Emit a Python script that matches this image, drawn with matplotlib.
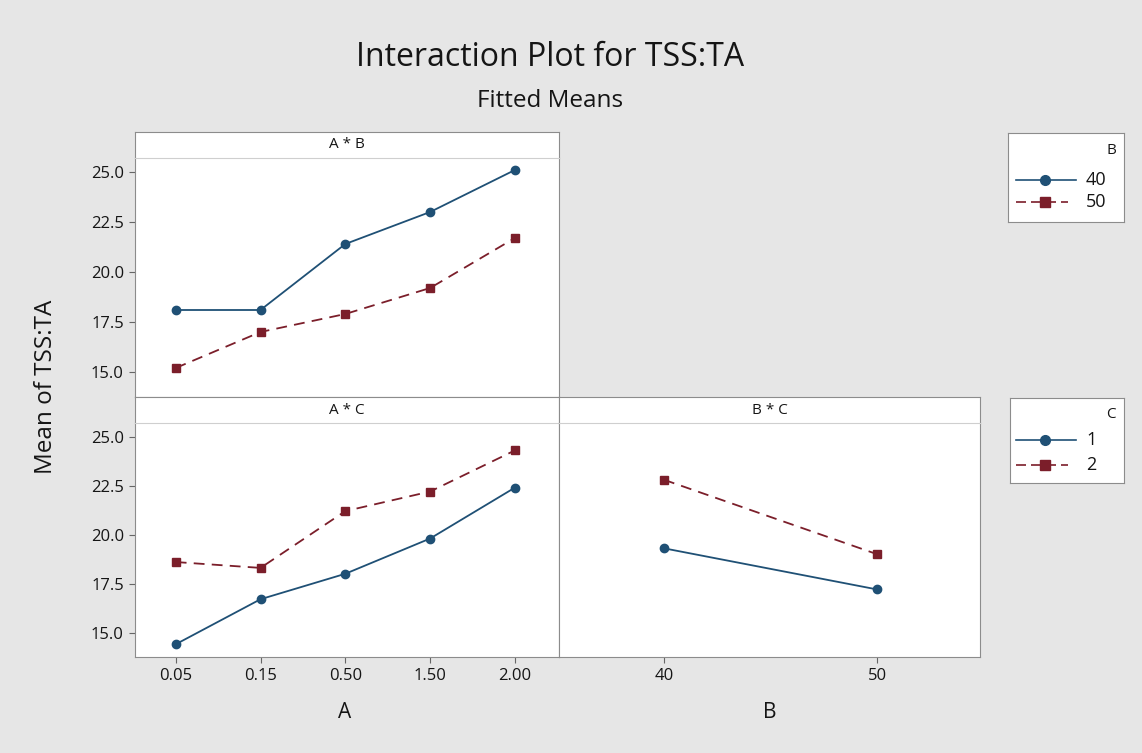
import matplotlib
matplotlib.use("Agg")
import matplotlib.pyplot as plt

plt.rcParams['font.family'] = ['Open Sans', 'DejaVu Sans']

# ---- data ----
a_levels = ["0.05", "0.15", "0.50", "1.50", "2.00"]
b_levels = ["40", "50"]
c_levels = ["1", "2"]

ab_b40 = [18.1, 18.1, 21.4, 23.0, 25.1]
ab_b50 = [15.2, 17.0, 17.9, 19.2, 21.7]

ac_c1 = [14.4, 16.7, 18.0, 19.8, 22.4]
ac_c2 = [18.6, 18.3, 21.2, 22.2, 24.3]

bc_c1 = [19.3, 17.2]
bc_c2 = [22.8, 19.0]

yticks = [15.0, 17.5, 20.0, 22.5, 25.0]

# ---- style ----
W, H = 1142, 753
BG = "#e6e6e6"
BLUE = "#1f5075"
RED = "#7b1e2a"
FRAME = "#8c8c8c"
SEP = "#cfcfcf"
TXT = "#151515"
YLIM = (13.75, 25.7)

fig = plt.figure(figsize=(W / 100, H / 100), dpi=100, facecolor=BG)


def px_axes(x0, y0, x1, y1, **kw):
    return fig.add_axes([x0 / W, 1 - y1 / H, (x1 - x0) / W, (y1 - y0) / H], **kw)


def panel(x0, x1, ytop, ystrip, ybot, label):
    strip = px_axes(x0, ytop, x1, ystrip)
    strip.set_facecolor("white")
    strip.set_xticks([]); strip.set_yticks([])
    for s in ["left", "right", "top"]:
        strip.spines[s].set_color(FRAME)
    strip.spines["bottom"].set_visible(False)
    strip.text(0.5, 0.5, label, ha="center", va="center", fontsize=11,
               color=TXT, transform=strip.transAxes)
    ax = px_axes(x0, ystrip, x1, ybot)
    ax.set_facecolor("white")
    for s in ["left", "right", "bottom"]:
        ax.spines[s].set_color(FRAME)
    ax.spines["top"].set_color(SEP)
    ax.tick_params(colors="#666666", labelcolor=TXT, labelsize=12,
                   length=4, width=0.8, pad=4)
    return ax


ax_ab = panel(135, 559, 132, 158, 397, "A * B")
ax_ac = panel(135, 559, 397, 423, 657, "A * C")
ax_bc = panel(559, 980, 397, 423, 657, "B * C")

xa = list(range(len(a_levels)))
ax_ab.plot(xa, ab_b40, color=BLUE, lw=1.3, marker="o", ms=6, mfc=BLUE, mec=BLUE)
ax_ab.plot(xa, ab_b50, color=RED, lw=1.3, ls=(0, (6, 4)), marker="s", ms=6, mfc=RED, mec=RED)
ax_ac.plot(xa, ac_c1, color=BLUE, lw=1.3, marker="o", ms=6, mfc=BLUE, mec=BLUE)
ax_ac.plot(xa, ac_c2, color=RED, lw=1.3, ls=(0, (6, 4)), marker="s", ms=6, mfc=RED, mec=RED)

xb = [float(v) for v in b_levels]
ax_bc.plot(xb, bc_c1, color=BLUE, lw=1.3, marker="o", ms=6, mfc=BLUE, mec=BLUE)
ax_bc.plot(xb, bc_c2, color=RED, lw=1.3, ls=(0, (6, 4)), marker="s", ms=6, mfc=RED, mec=RED)

for ax in (ax_ab, ax_ac):
    ax.set_xlim(-0.48, 4.52)
    ax.set_ylim(*YLIM)
    ax.set_yticks(yticks)
    ax.set_yticklabels([f"{v:.1f}" for v in yticks])
ax_ab.set_xticks([])
ax_ac.set_xticks(xa)
ax_ac.set_xticklabels(a_levels)

ax_bc.set_xlim(35.07, 54.83)
ax_bc.set_ylim(*YLIM)
ax_bc.set_xticks(xb)
ax_bc.set_xticklabels(b_levels)
ax_bc.set_yticks([])

# ---- titles ----
fig.text(550 / W, 1 - 66.5 / H, "Interaction Plot for TSS:TA", ha="center",
         va="baseline", fontsize=23, color=TXT)
fig.text(550 / W, 1 - 107 / H, "Fitted Means", ha="center", va="baseline",
         fontsize=17.5, color=TXT)
fig.text(46 / W, 1 - 387 / H, "Mean of TSS:TA", ha="center", va="center",
         rotation=90, fontsize=17.5, color=TXT)
fig.text(345 / W, 1 - 713 / H, "A", ha="center", va="center", fontsize=15, color=TXT)
fig.text(770 / W, 1 - 713 / H, "B", ha="center", va="center", fontsize=15, color=TXT)


# ---- legends ----
def legend_box(x0, y0, x1, y1, title, labels, rows):
    lg = px_axes(x0, y0, x1, y1)
    lg.set_facecolor("white")
    lg.set_xlim(x0, x1)
    lg.set_ylim(y1, y0)
    lg.set_xticks([]); lg.set_yticks([])
    for s in lg.spines.values():
        s.set_color(FRAME)
    lg.text(x1 - 8, rows[0], title, ha="right", va="center", fontsize=11, color=TXT)
    specs = [(BLUE, "-", "o", 1076), (RED, (0, (6, 3)), "s", 1068)]
    for (col, ls, mk, xe), lab, yy in zip(specs, labels, rows[1:]):
        lg.plot([1016, xe], [yy, yy], color=col, lw=1.2, ls=ls)
        lg.plot([1045], [yy], marker=mk, ms=7, color=col, ls="none")
        lg.text(1086, yy, lab, ha="left", va="center", fontsize=13, color=TXT)
    return lg


legend_box(1008, 133, 1124, 222, "B", b_levels, [150, 180, 202])
legend_box(1010, 398, 1124, 483, "C", c_levels, [414, 440, 465])

fig.savefig("out.png", dpi=100, facecolor=BG)
